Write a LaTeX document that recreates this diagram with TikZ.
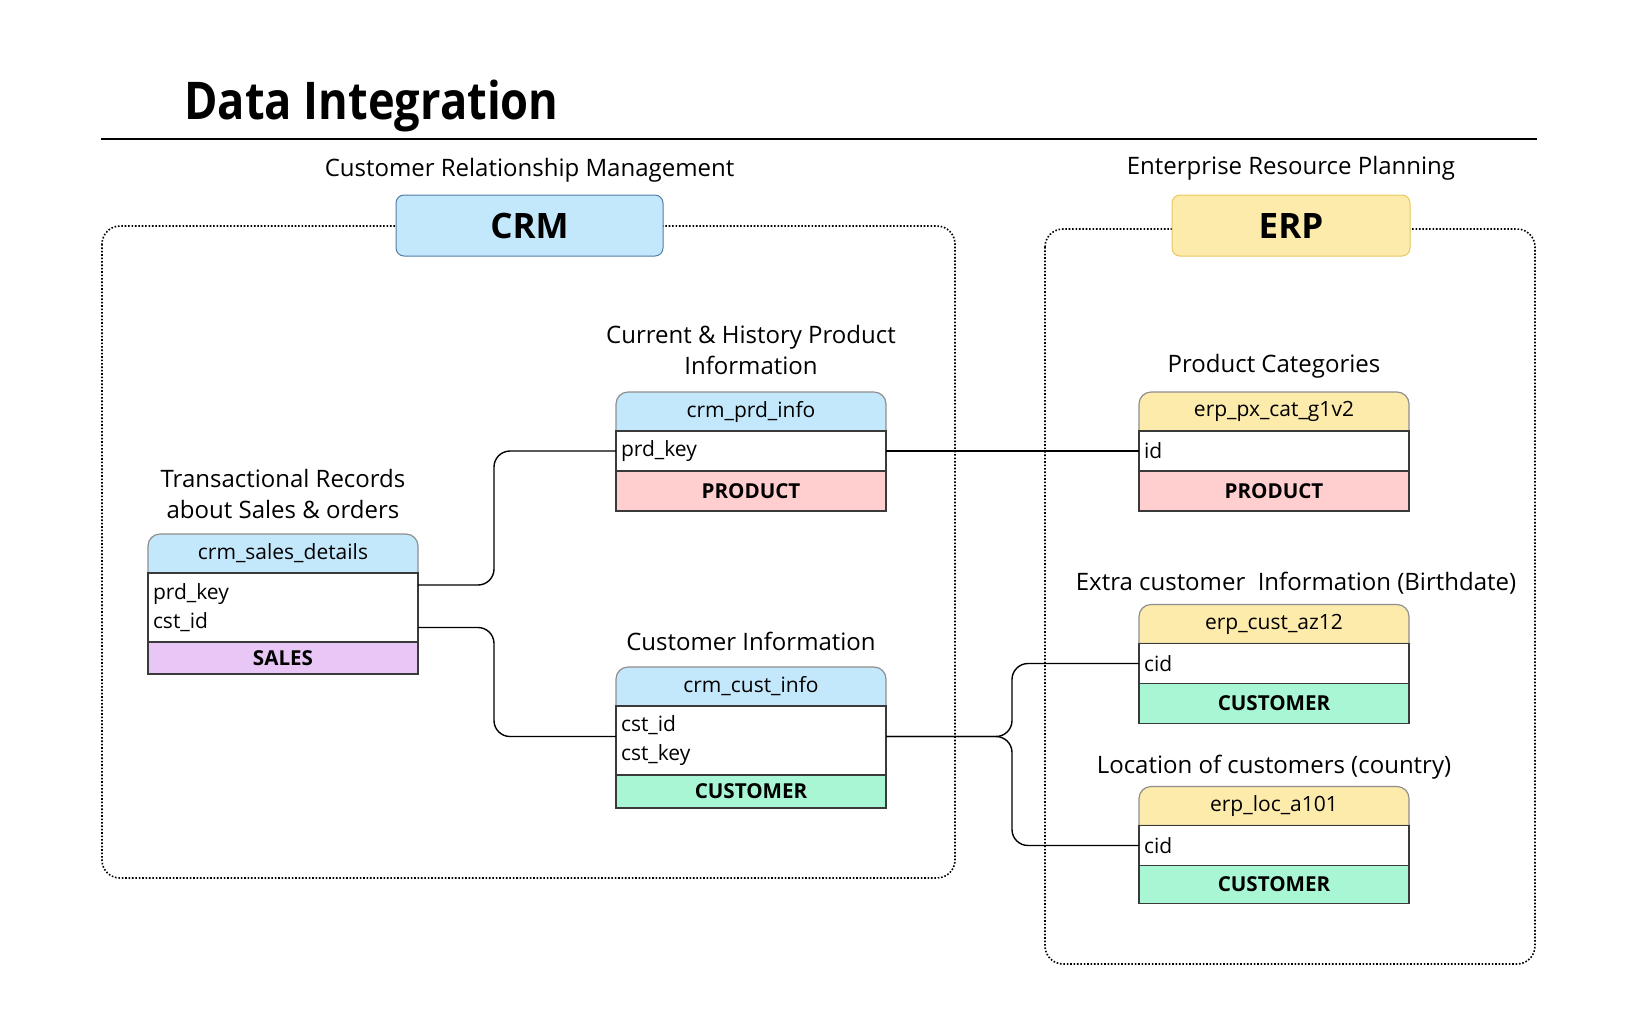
\documentclass[tikz,border=0pt]{standalone}
\usepackage{fontspec}
\setmainfont{Open Sans}
\newfontfamily\titlefont{Open Sans}[FakeStretch=0.87]
\usetikzlibrary{positioning,backgrounds}

\definecolor{crmblue}{HTML}{C4E8FB}
\definecolor{crmedge}{HTML}{4F7DA6}
\definecolor{erpyellow}{HTML}{FDEBAB}
\definecolor{erpedge}{HTML}{E9C85C}
\definecolor{prodpink}{HTML}{FFCFCF}
\definecolor{custgreen}{HTML}{A8F6D3}
\definecolor{salespurple}{HTML}{E8C6F6}
\definecolor{hdrline}{HTML}{8E8E8E}
\definecolor{tblline}{HTML}{3A3A3A}

\begin{document}
\begin{tikzpicture}[x=0.5pt,y=-0.5pt]
  \tikzstyle{caption}=[font=\fontsize{12}{15.5}\selectfont,align=center,inner sep=0pt,outer sep=0pt,text depth=3pt]
  \tikzstyle{system}=[rounded corners=4pt,line width=0.5pt,minimum height=30.5pt,inner sep=0pt,font=\bfseries\fontsize{17.5}{20}\selectfont]
  \tikzstyle{frame}=[line width=0.8pt,dash pattern=on 0.8pt off 0.9pt,rounded corners=9pt]
  \tikzstyle{hdr}=[minimum width=135pt,minimum height=19.5pt,inner sep=0pt,outer sep=0pt,font=\fontsize{10.5}{12}\selectfont]
  \tikzstyle{fld}=[draw=tblline,fill=white,line width=0.6pt,text width=130pt,align=left,inner xsep=2.5pt,inner ysep=0pt,outer sep=0pt,font=\fontsize{10.5}{14.2}\selectfont]
  \tikzstyle{tag}=[draw=tblline,fill=#1,line width=0.6pt,minimum width=135pt,inner sep=0pt,outer sep=0pt,font=\bfseries\fontsize{10.3}{12}\selectfont]
  \tikzstyle{link}=[line width=0.7pt,rounded corners=8pt]

  \useasboundingbox (0,0) rectangle (1649,1025);

  % title
  \node[anchor=base west,inner sep=0pt,font=\titlefont\bfseries\fontsize{26}{30}\selectfont] (title) at (184,119) {Data Integration};
  \coordinate (rulel) at (101,139);
  \coordinate (ruler) at (1537,139);
  \draw[line width=1pt] (rulel) -- (ruler);

  % source systems
  \draw[frame] (102,226) rectangle (955,878);
  \draw[frame] (1045,229) rectangle (1535,964);
  \node[system,fill=crmblue,draw=crmedge,minimum width=133.5pt] (crm) at (529.5,225.5) {CRM};
  \node[system,fill=erpyellow,draw=erpedge,minimum width=119pt] (erp) at (1291,225.5) {ERP};
  \node[caption] (crml) [above=6.2pt of crm] {Customer Relationship Management};
  \node[caption] (erpl) [above=7.2pt of erp] {Enterprise Resource Planning};

  % crm tables
  \node[hdr] (sdh) at (283,553.5) {crm\_sales\_details};
  \node[fld,minimum height=34.5pt] (sdb) [below=0pt of sdh] {prd\_key\\cst\_id};
  \node[tag=salespurple,minimum height=16pt] (sdf) [below=0pt of sdb] {SALES};
  \node[caption] (sdl) [above=4.7pt of sdh] {Transactional Records\\about Sales \& orders};

  \node[hdr] (pih) at (751,411.5) {crm\_prd\_info};
  \node[fld,minimum height=20pt] (pib) [below=0pt of pih] {prd\_key};
  \node[tag=prodpink,minimum height=20pt] (pif) [below=0pt of pib] {PRODUCT};
  \node[caption] (pil) [above=5.7pt of pih] {Current \& History Product\\Information};

  \node[hdr] (cih) at (751,686.5) {crm\_cust\_info};
  \node[fld,minimum height=34.5pt] (cib) [below=0pt of cih] {cst\_id\\cst\_key};
  \node[tag=custgreen,minimum height=16.5pt] (cif) [below=0pt of cib] {CUSTOMER};
  \node[caption] (cil) [above=5.2pt of cih] {Customer Information};

  % erp tables
  \node[hdr] (pch) at (1274,411.5) {erp\_px\_cat\_g1v2};
  \node[fld,minimum height=20pt] (pcb) [below=0pt of pch] {id};
  \node[tag=prodpink,minimum height=20pt] (pcf) [below=0pt of pcb] {PRODUCT};
  \node[caption] (pcl) [above=6.7pt of pch] {Product Categories};

  \node[hdr] (azh) at (1274,624) {erp\_cust\_az12};
  \node[fld,minimum height=20pt] (azb) [below=0pt of azh] {cid};
  \node[tag=custgreen,minimum height=20pt] (azf) [below=0pt of azb] {CUSTOMER};
  \node[caption] (azl) [above=4.2pt of azh,xshift=11pt] {Extra customer\ \ Information (Birthdate)};

  \node[hdr] (loh) at (1274,806) {erp\_loc\_a101};
  \node[fld,minimum height=20pt] (lob) [below=0pt of loh] {cid};
  \node[tag=custgreen,minimum height=19pt] (lof) [below=0pt of lob] {CUSTOMER};
  \node[caption] (lol) [above=3.7pt of loh] {Location of customers (country)};

  % header tabs
  \begin{scope}[on background layer]
    \foreach \h/\c in {sdh/crmblue,pih/crmblue,cih/crmblue,pch/erpyellow,azh/erpyellow,loh/erpyellow}
      \draw[draw=hdrline,fill=\c,line width=0.6pt] (\h.south west) -- ([yshift=-6pt]\h.north west)
        arc[start angle=180,end angle=90,radius=6pt] -- ([xshift=-6pt]\h.north east)
        arc[start angle=90,end angle=0,radius=6pt] -- (\h.south east) -- cycle;
  \end{scope}

  % joins
  \coordinate (jl) at (494,600);
  \coordinate (jr) at (1012,750);
  \draw[link] ([yshift=11.25pt]sdb.east) -| (jl |- pib.west) -- (pib.west);
  \draw[link] ([yshift=-10pt]sdb.east) -| ([yshift=2pt]jl |- cib.west) -- ([yshift=2pt]cib.west);
  \draw[link] (pib.east) -- (pcb.west);
  \draw[link] ([yshift=2pt]cib.east) -| (jr |- azb.west) -- (azb.west);
  \draw[link] ([yshift=2pt]cib.east) -| (jr |- lob.west) -- (lob.west);
\end{tikzpicture}
\end{document}
